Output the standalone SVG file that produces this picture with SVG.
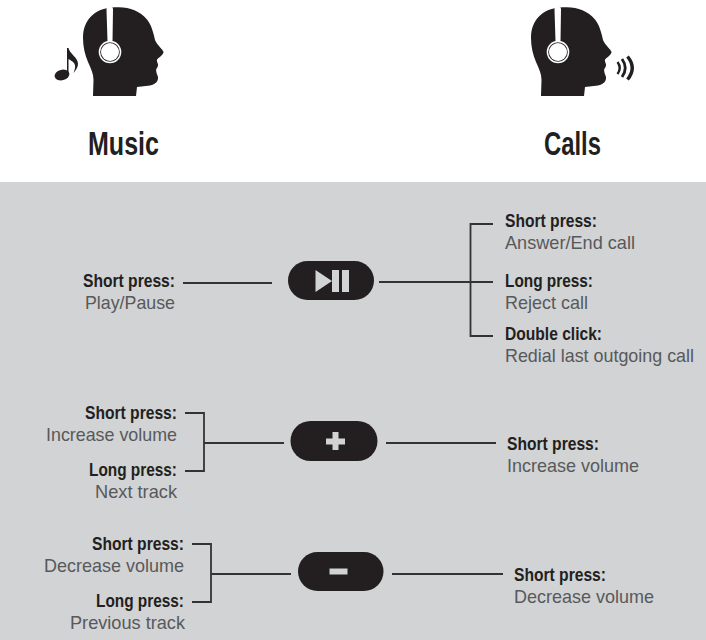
<svg xmlns="http://www.w3.org/2000/svg" width="706" height="640" viewBox="0 0 706 640">
<style>
.b{font-family:"Liberation Sans",Arial,sans-serif;font-weight:700;font-size:18.500px;fill:#231f20}
.r{font-family:"Liberation Sans",Arial,sans-serif;font-size:18.500px;fill:#58595b}
.h{font-family:"Liberation Sans",Arial,sans-serif;font-weight:700;font-size:33px;fill:#231f20}
.l{fill:none;stroke:#333335;stroke-width:1.800}
.p{fill:#231f20}
.i{fill:#d1d3d4}
</style>
<defs>
<g id="head">
<path class="p" d="M93 96L136 96L137 87L150 85.500C154 84.500 156.500 83 157.500 80.500C158.500 78 158 76.500 157.300 75C156.500 73 155.800 70.500 156.300 69C157.300 67.500 158.300 66 158 64.500C157.500 62.500 156.600 61 157 59.500C159 57.500 163.500 54.500 163.500 52C163 49.500 157 45 155 40C153.500 33 151.500 25 147 19.500C140 11 130 7.500 119 7.300C108 7.200 99 9 92 15.500C85.500 21.500 83 29 83 38C83 47 85 55 88 62C91 68.500 93.500 74 93.500 80Z"/>
<path d="M106.500 9Q106.500 7 109 7L111 7Q113 7 113 9L112.500 42L107.500 42Z" fill="#fff"/>
<circle cx="110" cy="52" r="11.300" fill="#fff"/>
<circle cx="110" cy="52" r="9.800" class="p"/>
<circle cx="110" cy="52" r="9" fill="#fff"/>
</g>
</defs>
<rect x="0" y="0" width="706" height="640" fill="#fff"/>
<rect x="0" y="182" width="706" height="458" fill="#d1d3d4"/>
<g id="music">
<use href="#head"/>
<ellipse cx="62" cy="75" rx="7.500" ry="5.300" transform="rotate(-15 62 75)" class="p"/>
<path class="p" d="M67 48L68.500 48C69.500 54 78 57 78 64C78 67 76 70 73.500 73C75 69 76 66 74 63C72.500 61 70 60 68.500 59L68.500 76L67 76Z"/>
<text class="h" x="88" y="155" textLength="71" lengthAdjust="spacingAndGlyphs">Music</text>
</g>
<g id="calls">
<use href="#head" x="448"/>
<path d="M617.500 62Q622 68 617.500 74" fill="none" stroke="#231f20" stroke-width="2.400"/>
<path d="M622 59Q628.500 68 622 77" fill="none" stroke="#231f20" stroke-width="2.800"/>
<path d="M627.500 56.500Q637 68 627.500 79.500" fill="none" stroke="#231f20" stroke-width="3.400"/>
<text class="h" x="544" y="155" textLength="57" lengthAdjust="spacingAndGlyphs">Calls</text>
</g>
<g id="connectors">
<path class="l" d="M183 283H272"/>
<path class="l" d="M379 282H493M493 224H470.500V336H493"/>
<path class="l" d="M185 413H204V471H185M204 443H284"/>
<path class="l" d="M386 443H496"/>
<path class="l" d="M192 544H211V602H192M211 574H291"/>
<path class="l" d="M392 574H503"/>
</g>
<g id="btn-play">
<rect x="288" y="261" width="86" height="39" rx="19.500" class="p"/>
<path class="i" d="M315.500 270L332 281L315.500 292ZM332 270H339V292H332ZM342 270H349V292H342Z"/>
</g>
<g id="btn-plus">
<rect x="290.500" y="421" width="87" height="40" rx="20" class="p"/>
<path class="i" d="M332.500 432H338.500V438.500H345V444.500H338.500V450H332.500V444.500H326V438.500H332.500Z"/>
</g>
<g id="btn-minus">
<rect x="298" y="552" width="85.500" height="39" rx="19.500" class="p"/>
<rect x="329.500" y="568.500" width="18" height="6" class="i"/>
</g>
<g id="labels">
<text class="b" x="83" y="287" textLength="92" lengthAdjust="spacingAndGlyphs">Short press:</text>
<text class="r" x="85" y="309" textLength="90" lengthAdjust="spacingAndGlyphs">Play/Pause</text>
<text class="b" x="505" y="227" textLength="92" lengthAdjust="spacingAndGlyphs">Short press:</text>
<text class="r" x="505" y="249" textLength="130" lengthAdjust="spacingAndGlyphs">Answer/End call</text>
<text class="b" x="505" y="287" textLength="88" lengthAdjust="spacingAndGlyphs">Long press:</text>
<text class="r" x="505" y="309" textLength="83" lengthAdjust="spacingAndGlyphs">Reject call</text>
<text class="b" x="505" y="340" textLength="97" lengthAdjust="spacingAndGlyphs">Double click:</text>
<text class="r" x="505" y="362" textLength="189" lengthAdjust="spacingAndGlyphs">Redial last outgoing call</text>
<text class="b" x="85" y="419" textLength="92" lengthAdjust="spacingAndGlyphs">Short press:</text>
<text class="r" x="46" y="441" textLength="131" lengthAdjust="spacingAndGlyphs">Increase volume</text>
<text class="b" x="89" y="476" textLength="88" lengthAdjust="spacingAndGlyphs">Long press:</text>
<text class="r" x="95" y="498" textLength="82" lengthAdjust="spacingAndGlyphs">Next track</text>
<text class="b" x="507" y="450" textLength="92" lengthAdjust="spacingAndGlyphs">Short press:</text>
<text class="r" x="507" y="472" textLength="132" lengthAdjust="spacingAndGlyphs">Increase volume</text>
<text class="b" x="92" y="550" textLength="92" lengthAdjust="spacingAndGlyphs">Short press:</text>
<text class="r" x="44" y="572" textLength="140" lengthAdjust="spacingAndGlyphs">Decrease volume</text>
<text class="b" x="96" y="607" textLength="88" lengthAdjust="spacingAndGlyphs">Long press:</text>
<text class="r" x="70" y="629" textLength="115" lengthAdjust="spacingAndGlyphs">Previous track</text>
<text class="b" x="514" y="581" textLength="92" lengthAdjust="spacingAndGlyphs">Short press:</text>
<text class="r" x="514" y="603" textLength="140" lengthAdjust="spacingAndGlyphs">Decrease volume</text>
</g>
</svg>
